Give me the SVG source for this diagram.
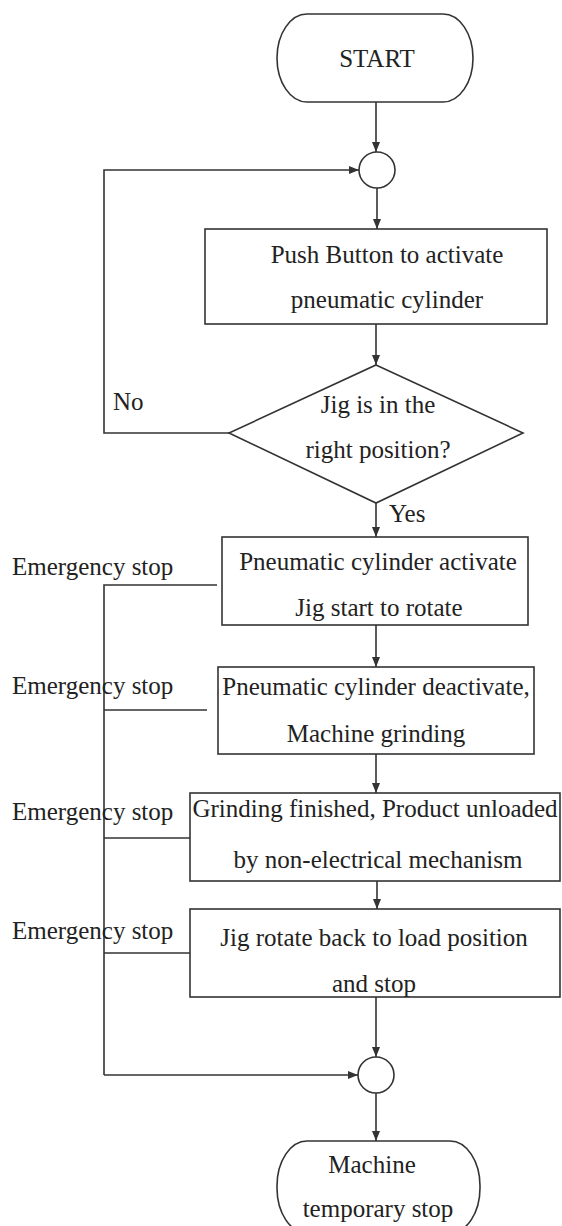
<svg xmlns="http://www.w3.org/2000/svg" width="562" height="1226" viewBox="0 0 562 1226" font-family="'Liberation Serif', 'Times New Roman', Tinos, 'DejaVu Serif', serif" font-size="25">
  <style>
    .shape { fill: #ffffff; stroke: #333333; stroke-width: 1.6; }
    .wire { fill: none; stroke: #333333; stroke-width: 1.6; }
    .arrow { fill: none; stroke: #333333; stroke-width: 1.6; marker-end: url(#head); }
    text { fill: #222222; }
    .c { text-anchor: middle; }
  </style>
  <defs>
    <marker id="head" markerUnits="userSpaceOnUse" markerWidth="10" markerHeight="10" viewBox="0 0 10 10" refX="10" refY="5" orient="auto">
      <path d="M0,1 L10,5 L0,9 Z" fill="#333333"/>
    </marker>
  </defs>
  <rect width="562" height="1226" fill="#ffffff"/>

  <!-- connectors -->
  <g id="connectors">
    <path class="arrow" d="M376,102 V152"/>
    <path class="arrow" d="M377,188 V229"/>
    <path class="arrow" d="M376,324 V365"/>
    <path class="arrow" d="M229,433 H104 V170 H359"/>
    <path class="arrow" d="M376,503 V537"/>
    <path class="arrow" d="M376,625 V667"/>
    <path class="arrow" d="M376,754 V793"/>
    <path class="arrow" d="M377,881 V909"/>
    <path class="arrow" d="M376,997 V1057"/>
    <path class="arrow" d="M376,1093 V1141"/>
    <!-- emergency stop bus -->
    <path class="wire" d="M217,585 H104 V1075"/>
    <path class="wire" d="M104,710 H207"/>
    <path class="wire" d="M104,838 H190"/>
    <path class="wire" d="M104,953 H190"/>
    <path class="arrow" d="M104,1075 H358"/>
    <text x="113" y="410">No</text>
    <text x="389" y="522">Yes</text>
    <text x="12" y="575">Emergency stop</text>
    <text x="12" y="694">Emergency stop</text>
    <text x="12" y="820">Emergency stop</text>
    <text x="12" y="939">Emergency stop</text>
  </g>

  <g id="start">
    <rect class="shape" x="277" y="14" width="196" height="88" rx="30" ry="44"/>
    <text class="c" x="377" y="67">START</text>
  </g>

  <g id="join-top">
    <circle class="shape" cx="377" cy="170" r="18"/>
  </g>

  <g id="push-button">
    <rect class="shape" x="205" y="229" width="342" height="95"/>
    <text class="c" x="387" y="263">Push Button to activate</text>
    <text class="c" x="387" y="308">pneumatic cylinder</text>
  </g>

  <g id="jig-check">
    <polygon class="shape" points="376,365 523,433 376,503 229,433"/>
    <text class="c" x="378" y="413">Jig is in the</text>
    <text class="c" x="378" y="458">right position?</text>
  </g>

  <g id="cylinder-activate">
    <rect class="shape" x="222" y="537" width="306" height="88"/>
    <text class="c" x="378" y="570">Pneumatic cylinder activate</text>
    <text class="c" x="379" y="616">Jig start to rotate</text>
  </g>

  <g id="cylinder-deactivate">
    <rect class="shape" x="218" y="667" width="316" height="87"/>
    <text class="c" x="376" y="695">Pneumatic cylinder deactivate,</text>
    <text class="c" x="376" y="742">Machine grinding</text>
  </g>

  <g id="unload">
    <rect class="shape" x="190" y="793" width="370" height="88"/>
    <text class="c" x="375" y="817">Grinding finished, Product unloaded</text>
    <text class="c" x="378" y="868">by non-electrical mechanism</text>
  </g>

  <g id="rotate-back">
    <rect class="shape" x="190" y="909" width="370" height="88"/>
    <text class="c" x="374" y="946">Jig rotate back to load position</text>
    <text class="c" x="374" y="992">and stop</text>
  </g>

  <g id="join-bottom">
    <circle class="shape" cx="376" cy="1075" r="18"/>
  </g>

  <g id="temporary-stop">
    <rect class="shape" x="277" y="1141" width="203" height="92" rx="30" ry="45"/>
    <text class="c" x="372" y="1173">Machine</text>
    <text class="c" x="378" y="1217">temporary stop</text>
  </g>
</svg>
